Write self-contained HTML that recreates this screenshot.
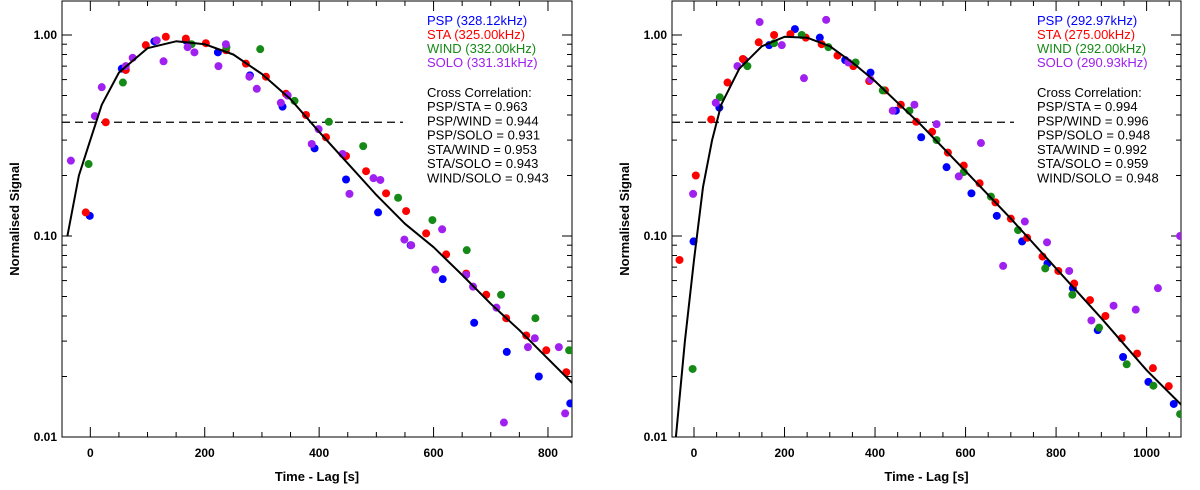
<!DOCTYPE html>
<html><head><meta charset="utf-8"><style>
html,body{margin:0;padding:0;background:#fff}
svg{display:block;font-family:"Liberation Sans",Arial,sans-serif}
</style></head><body>
<svg id="chart" width="1200" height="490" viewBox="0 0 1200 490" xmlns="http://www.w3.org/2000/svg"></svg>
<script>
// ---------- Left panel data ----------
const L_curveX=[-40,-20,0,20,50,100,150,200,250,300,350,400,450,500,550,600,650,700,750,800,842];
const L_curveY=[0.10,0.2,0.30,0.45,0.65,0.86,0.93,0.90,0.80,0.64,0.48,0.33,0.23,0.16,0.115,0.088,0.064,0.046,0.034,0.0245,0.0186];
const L_pspX=[-1,55,112,167,223,279,336,392,447,503,560,616,671,728,784,839];
const L_pspY=[0.126,0.68,0.93,0.94,0.82,0.63,0.44,0.273,0.191,0.131,0.090,0.061,0.037,0.0265,0.020,0.0147];
const L_staX=[-8,27,62,97,132,167,202,237,272,307,342,377,412,447,482,517,552,587,622,657,692,727,762,797,832];
const L_staY=[0.131,0.368,0.67,0.89,0.98,0.96,0.91,0.84,0.72,0.62,0.51,0.40,0.31,0.25,0.21,0.163,0.133,0.103,0.081,0.065,0.051,0.039,0.032,0.027,0.021];
const L_windX=[-3,57,116,177,238,297,357,417,477,538,598,658,718,778,837];
const L_windY=[0.228,0.58,0.94,0.90,0.87,0.85,0.47,0.37,0.28,0.155,0.12,0.085,0.051,0.039,0.027];
const L_soloX=[-34,8,20,62,74,116,128,170,182,224,237,278,291,333,345,387,399,441,453,495,507,549,561,603,615,657,669,710,723,765,777,819,830];
const L_soloY=[0.237,0.395,0.55,0.70,0.77,0.94,0.74,0.87,0.82,0.70,0.90,0.62,0.54,0.46,0.50,0.287,0.34,0.256,0.162,0.194,0.19,0.096,0.09,0.068,0.108,0.064,0.056,0.044,0.0118,0.028,0.031,0.028,0.0131];
const L_legend=["PSP (328.12kHz)","STA (325.00kHz)","WIND (332.00kHz)","SOLO (331.31kHz)"];
const L_cc=["PSP/STA = 0.963","PSP/WIND = 0.944","PSP/SOLO = 0.931","STA/WIND = 0.953","STA/SOLO = 0.943","WIND/SOLO = 0.943"];
// ---------- Right panel data ----------
const R_curveX=[-40,-20,0,20,40,60,100,150,200,250,300,350,400,450,500,600,700,800,900,1000,1076];
const R_curveY=[0.01,0.03,0.076,0.175,0.30,0.45,0.68,0.88,0.98,0.97,0.88,0.73,0.59,0.46,0.36,0.21,0.122,0.069,0.039,0.0215,0.0145];
const R_pspX=[-1,56,111,166,223,278,334,390,446,502,558,613,669,725,781,837,892,948,1004,1060];
const R_pspY=[0.094,0.435,0.75,0.89,1.07,0.97,0.75,0.65,0.42,0.31,0.22,0.163,0.126,0.094,0.073,0.055,0.034,0.025,0.0188,0.0146];
const R_staX=[-32,4,38,74,108,143,177,213,247,282,317,352,387,422,457,491,526,561,596,631,666,700,736,770,805,840,875,909,945,979,1014,1049];
const R_staY=[0.076,0.20,0.38,0.58,0.76,0.92,1.0,1.01,0.97,0.90,0.79,0.70,0.59,0.53,0.45,0.37,0.33,0.26,0.224,0.183,0.147,0.122,0.098,0.079,0.067,0.058,0.048,0.040,0.031,0.026,0.022,0.0179];
const R_windX=[-3,57,118,177,238,297,357,417,476,536,596,656,716,776,836,895,956,1015,1074];
const R_windY=[0.0218,0.49,0.70,0.91,1.0,0.87,0.73,0.53,0.42,0.30,0.208,0.157,0.107,0.069,0.051,0.035,0.023,0.018,0.013];
const R_soloX=[-2,48,96,145,194,243,292,341,390,439,487,536,585,634,683,731,780,829,878,927,976,1025,1074];
const R_soloY=[0.162,0.46,0.70,1.16,0.89,0.61,1.19,0.73,0.60,0.42,0.45,0.36,0.198,0.29,0.071,0.118,0.093,0.067,0.038,0.045,0.043,0.055,0.10];
const R_legend=["PSP (292.97kHz)","STA (275.00kHz)","WIND (292.00kHz)","SOLO (290.93kHz)"];
const R_cc=["PSP/STA = 0.994","PSP/WIND = 0.996","PSP/SOLO = 0.948","STA/WIND = 0.992","STA/SOLO = 0.959","WIND/SOLO = 0.948"];
const xTicksL=[0,200,400,600,800];
const xTicksR=[0,200,400,600,800,1000];
const yTicks=[1,0.1,0.01];
const yTickLabels=["1.00","0.10","0.01"];
const colors=["#0000ff","#ff0000","#168a16","#a020f0"];
const threshold=0.368;

const NS="http://www.w3.org/2000/svg";
const svg=document.getElementById('chart');
function mk(tag,attrs,parent){const e=document.createElementNS(NS,tag);for(const k in attrs)e.setAttribute(k,attrs[k]);(parent||svg).appendChild(e);return e;}

function panel(p){
  const g=mk('g',{});
  
  
  const yTop=1,yBot=437,decade=201;
  const ymaxLog=-2+(yBot-yTop)/decade;
  const sx=v=>p.x0+(v-p.xmin)/(p.xmax-p.xmin)*(p.x1-p.x0);
  const sy=v=>yBot-(Math.log10(v)+2)*decade;
  const clip=mk('clipPath',{id:'clip'+p.id},g);
  mk('rect',{x:p.x0,y:yTop,width:p.x1-p.x0,height:yBot-yTop},clip);
  const tk=mk('g',{stroke:'#000','stroke-width':1},g);
  
  
  for(let v=Math.ceil(p.xmin/50)*50;v<=p.xmax;v+=50){
    const len=(v%200===0)?10:5;const x=sx(v);
    mk('line',{x1:x,x2:x,y1:yBot,y2:yBot-len},tk);
    mk('line',{x1:x,x2:x,y1:yTop,y2:yTop+len},tk);
  }
  for(let d=-2;d<=0;d++)for(let m=1;m<=9;m++){
    const v=m*Math.pow(10,d);if(Math.log10(v)>ymaxLog)continue;
    const y=sy(v);const len=m===1?10:5;
    mk('line',{x1:p.x0,x2:p.x0+len,y1:y,y2:y},tk);
    mk('line',{x1:p.x1,x2:p.x1-len,y1:y,y2:y},tk);
  }
  mk('rect',{x:p.x0,y:yTop,width:p.x1-p.x0,height:yBot-yTop,fill:'none',stroke:'#000','stroke-width':1},g);
  p.xt.forEach(v=>{const t=mk('text',{x:sx(v),y:457,'text-anchor':'middle','font-size':12,'font-weight':'bold'},g);t.textContent=v;
    });
  yTicks.forEach((v,i)=>{const t=mk('text',{x:p.x0-5,y:sy(v)+4,'text-anchor':'end','font-size':12,'font-weight':'bold'},g);t.textContent=yTickLabels[i];
    });
  const xt=mk('text',{x:(p.x0+p.x1)/2,y:481,'text-anchor':'middle','font-size':13,'font-weight':'bold'},g);xt.textContent='Time - Lag [s]';
  
  const yt=mk('text',{x:0,y:0,transform:`translate(${p.x0-43},${219}) rotate(-90)`,'text-anchor':'middle','font-size':13,'font-weight':'bold'},g);yt.textContent='Normalised Signal';
  
  const dl=mk('line',{x1:p.x0,x2:p.dashEnd,y1:sy(threshold),y2:sy(threshold),stroke:'#000','stroke-width':1.3,'stroke-dasharray':'8,5'},g);
  
  const pg=mk('g',{'clip-path':`url(#clip${p.id})`},g);
  const names=['psp','sta','wind','solo'];
  p.series.forEach((s,si)=>{
    s[0].forEach((xv,i)=>{const c=mk('circle',{cx:sx(xv),cy:sy(s[1][i]),r:4,fill:colors[si]},pg);
      });
  });
  const d=p.cx.map((xv,i)=>(i?'L':'M')+sx(xv).toFixed(1)+','+sy(p.cy[i]).toFixed(1)).join(' ');
  const cl=mk('path',{d:d,fill:'none',stroke:'#000','stroke-width':2,'clip-path':`url(#clip${p.id})`,'stroke-linejoin':'round'},g);
  
  p.legend.forEach((s,i)=>{const t=mk('text',{x:p.lx,y:25+i*14,'font-size':13,fill:colors[i]},g);t.textContent=s;
    });
  const h=mk('text',{x:p.lx,y:97,'font-size':13},g);h.textContent='Cross Correlation:';
  
  p.cc.forEach((s,i)=>{const t=mk('text',{x:p.lx,y:111+i*14.3,'font-size':13},g);t.textContent=s;
    });
}
panel({id:'L',name:'left-panel',x0:62,x1:572,xmin:-49.5,xmax:842,xt:xTicksL,dashEnd:403,lx:427,
  cx:L_curveX,cy:L_curveY,series:[[L_pspX,L_pspY],[L_staX,L_staY],[L_windX,L_windY],[L_soloX,L_soloY]],legend:L_legend,cc:L_cc});
panel({id:'R',name:'right-panel',x0:672,x1:1181,xmin:-48.6,xmax:1076,xt:xTicksR,dashEnd:1014,lx:1037,
  cx:R_curveX,cy:R_curveY,series:[[R_pspX,R_pspY],[R_staX,R_staY],[R_windX,R_windY],[R_soloX,R_soloY]],legend:R_legend,cc:R_cc});
</script>
</body></html>
